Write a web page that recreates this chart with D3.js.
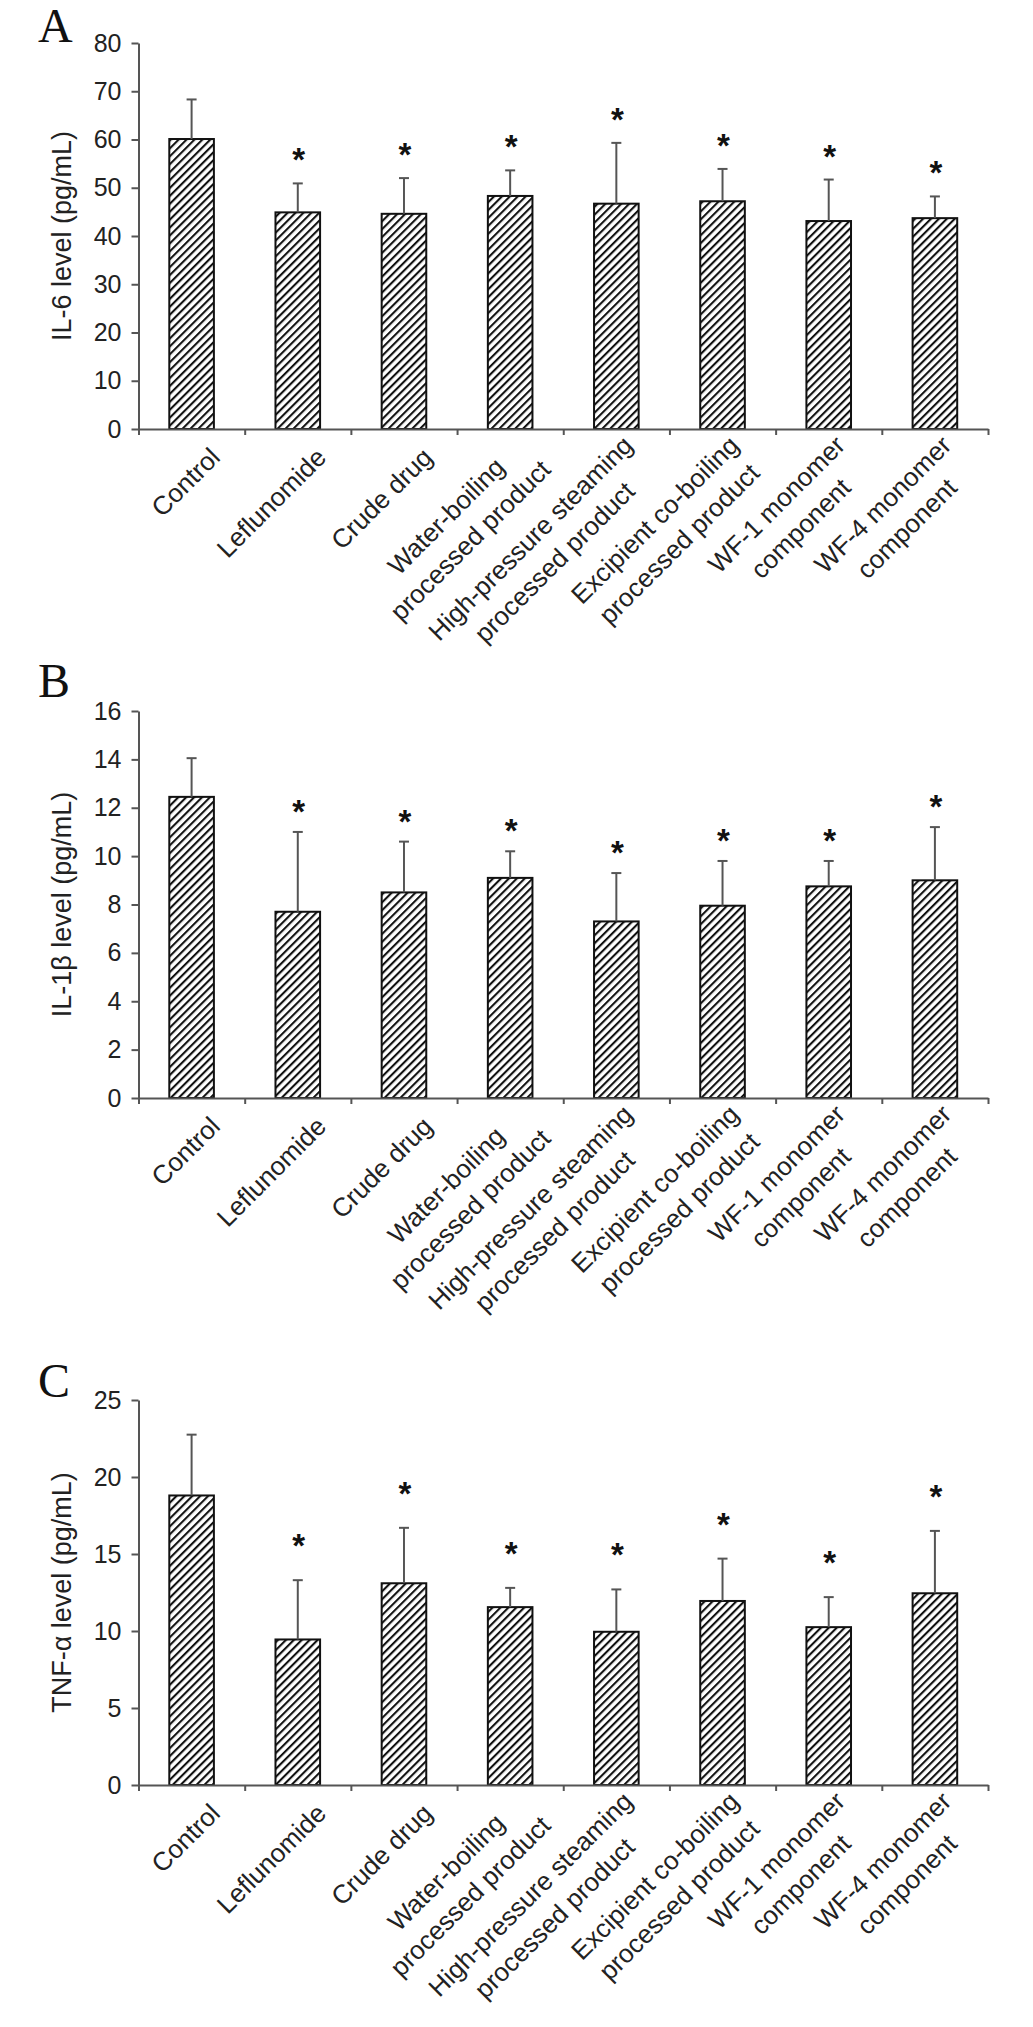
<!DOCTYPE html>
<html>
<head>
<meta charset="utf-8">
<script src="https://cdn.jsdelivr.net/npm/d3@7"></script>
<style>
  body { margin: 0; background: #fff; }
  text { font-family: "Liberation Sans", Arial, sans-serif; fill: #222; }
</style>
</head>
<body>
<svg id="figura"></svg>
<script>
// Datos
var categorias = [
    ["Control"],
    ["Leflunomide"],
    ["Crude drug"],
    ["Water-boiling", "processed product"],
    ["High-pressure steaming", "processed product"],
    ["Excipient co-boiling", "processed product"],
    ["WF-1 monomer", "component"],
    ["WF-4 monomer", "component"]
];
var significativo = [false, true, true, true, true, true, true, true];

var il6Media = [60.1, 44.9, 44.6, 48.3, 46.7, 47.2, 43.1, 43.7];
var il6De    = [8.2, 6.0, 7.4, 5.3, 12.6, 6.7, 8.6, 4.5];
var il6Ticks = [0, 10, 20, 30, 40, 50, 60, 70, 80];

var il1bMedia = [12.45, 7.7, 8.5, 9.1, 7.3, 7.95, 8.75, 9.0];
var il1bDe    = [1.6, 3.3, 2.1, 1.1, 2.0, 1.85, 1.05, 2.2];
var il1bTicks = [0, 2, 4, 6, 8, 10, 12, 14, 16];

var tnfMedia = [18.8, 9.45, 13.1, 11.55, 9.95, 11.95, 10.25, 12.45];
var tnfDe    = [3.95, 3.85, 3.6, 1.25, 2.75, 2.75, 1.95, 4.05];
var tnfTicks = [0, 5, 10, 15, 20, 25];

// Disposicion de cada panel
var paneles = [
    {letra: "A", titulo: "IL-6 level (pg/mL)", media: il6Media, de: il6De, ticks: il6Ticks,
     arriba: 43, abajo: 429, letraY: 42, estrella: 31},
    {letra: "B", titulo: "IL-1\u03b2 level (pg/mL)", media: il1bMedia, de: il1bDe, ticks: il1bTicks,
     arriba: 711, abajo: 1098, letraY: 697, estrella: 28},
    {letra: "C", titulo: "TNF-\u03b1 level (pg/mL)", media: tnfMedia, de: tnfDe, ticks: tnfTicks,
     arriba: 1400, abajo: 1785, letraY: 1397, estrella: 42}
];

var ancho = 1033, alto = 2027;
var x0 = 138.5, x1 = 988;
var colorEje = "#555";

var svg = d3.select("#figura").attr("width", ancho).attr("height", alto);
svg.append("rect").attr("width", ancho).attr("height", alto).attr("fill", "#fff");

// Trama diagonal de las barras
svg.append("defs").append("pattern")
    .attr("id", "rayado")
    .attr("patternUnits", "userSpaceOnUse")
    .attr("width", 5.6)
    .attr("height", 10)
    .attr("patternTransform", "rotate(45)")
    .append("rect")
    .attr("width", 2.1)
    .attr("height", 10)
    .attr("fill", "#111");

var nombres = categorias.map(function(c){ return c.join(" "); });
var x = d3.scaleBand().domain(nombres).range([x0, x1]).padding(0);
var xTicks = d3.scaleLinear().domain([0, nombres.length]).range([x0, x1]);
var anchoBarra = x.bandwidth() * 0.42;

paneles.forEach(function(p){
    var g = svg.append("g");
    var y = d3.scaleLinear()
        .domain([0, p.ticks[p.ticks.length - 1]])
        .range([p.abajo, p.arriba]);
    var centro = function(i){ return x(nombres[i]) + x.bandwidth() / 2; };

    // Letra del panel
    g.append("text")
        .attr("x", 38)
        .attr("y", p.letraY)
        .style("font-family", "'Liberation Serif', 'Times New Roman', serif")
        .style("font-size", "48px")
        .style("fill", "#111")
        .text(p.letra);

    // Eje Y
    var ejeY = g.append("g")
        .attr("transform", "translate(" + x0 + ",0)")
        .call(d3.axisLeft(y).tickValues(p.ticks).tickSize(7).tickPadding(10).tickSizeOuter(0));
    ejeY.selectAll("path, line").attr("stroke", colorEje).attr("stroke-width", 2);
    ejeY.selectAll("text").style("font-size", "25px").style("font-family", "'Liberation Sans', Arial, sans-serif").attr("fill", "#222");

    // Titulo del eje Y
    g.append("text")
        .attr("transform", "translate(71," + (p.arriba + p.abajo) / 2 + ") rotate(-90)")
        .attr("text-anchor", "middle")
        .style("font-size", "27px")
        .text(p.titulo);

    // Barras
    g.selectAll("rect.barra")
        .data(p.media)
        .enter()
        .append("rect")
        .attr("class", "barra")
        .attr("x", function(d, i){ return x(nombres[i]) + (x.bandwidth() - anchoBarra) / 2; })
        .attr("y", function(d){ return y(d); })
        .attr("width", anchoBarra)
        .attr("height", function(d){ return y(0) - y(d); })
        .attr("fill", "url(#rayado)")
        .attr("stroke", "#111")
        .attr("stroke-width", 2);

    // Barras de error (solo hacia arriba)
    var err = g.selectAll("g.error")
        .data(p.media)
        .enter()
        .append("g")
        .attr("class", "error")
        .attr("stroke", "#555")
        .attr("stroke-width", 2);
    err.append("line")
        .attr("x1", function(d, i){ return centro(i); })
        .attr("x2", function(d, i){ return centro(i); })
        .attr("y1", function(d){ return y(d); })
        .attr("y2", function(d, i){ return y(d + p.de[i]); });
    err.append("line")
        .attr("x1", function(d, i){ return centro(i) - 5; })
        .attr("x2", function(d, i){ return centro(i) + 5; })
        .attr("y1", function(d, i){ return y(d + p.de[i]); })
        .attr("y2", function(d, i){ return y(d + p.de[i]); });

    // Asteriscos sobre los grupos significativos
    var conEstrella = d3.range(p.media.length).filter(function(i){ return significativo[i]; });
    g.selectAll("text.estrella")
        .data(conEstrella)
        .enter()
        .append("text")
        .attr("class", "estrella")
        .attr("x", function(i){ return centro(i) + 1; })
        .attr("y", function(i){ return y(p.media[i] + p.de[i]) - p.estrella + 19; })
        .attr("text-anchor", "middle")
        .style("font-size", "33px")
        .style("font-weight", "bold")
        .style("fill", "#111")
        .text("*");

    // Eje X con marcas entre categorias
    var ejeX = g.append("g")
        .attr("transform", "translate(0," + p.abajo + ")")
        .call(d3.axisBottom(xTicks).tickValues(d3.range(nombres.length + 1)).tickFormat("").tickSize(6).tickSizeOuter(0));
    ejeX.selectAll("path, line").attr("stroke", colorEje).attr("stroke-width", 2);

    // Etiquetas giradas, centradas por lineas
    var lh = 34;
    categorias.forEach(function(lineas, i){
        var et = g.append("g")
            .attr("transform", "translate(" + (centro(i) + 24) + "," + (p.abajo + 24) + ") rotate(-45)");
        var textos = et.selectAll("text")
            .data(lineas)
            .enter()
            .append("text")
            .attr("text-anchor", "middle")
            .style("font-size", "26px")
            .attr("y", function(d, k){ return -lineas.length * lh / 2 + k * lh + lh * 0.75; })
            .text(function(d){ return d; });
        var w = 0;
        textos.each(function(){ w = Math.max(w, this.getComputedTextLength()); });
        textos.attr("x", -w / 2);
    });
});
</script>
</body>
</html>
